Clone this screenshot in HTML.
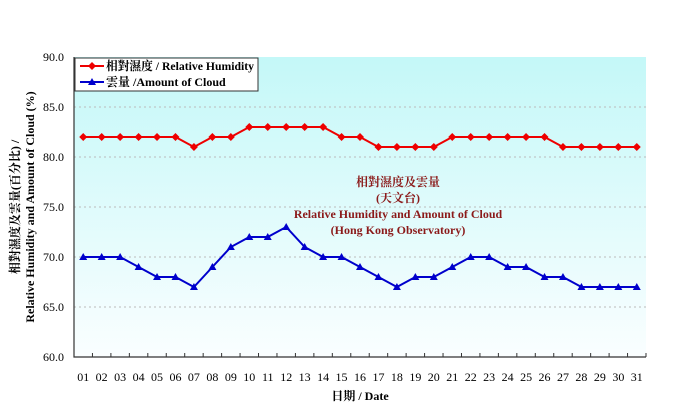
<!DOCTYPE html>
<html><head><meta charset="utf-8"><style>body{margin:0;background:#fff}svg{display:block}</style></head><body>
<svg width="684" height="420" xmlns="http://www.w3.org/2000/svg" font-family="Liberation Serif, 'Noto Serif CJK SC', serif">
<defs><linearGradient id="g" x1="0" y1="0" x2="0" y2="1"><stop offset="0" stop-color="#c4f8f8"/><stop offset="1" stop-color="#fafeff"/></linearGradient></defs>
<rect x="74" y="57" width="572" height="300" fill="url(#g)"/>
<g stroke="#bbb" stroke-dasharray="2,3" stroke-width="1">
<line x1="74" x2="646" y1="107" y2="107"/><line x1="74" x2="646" y1="157" y2="157"/><line x1="74" x2="646" y1="207" y2="207"/><line x1="74" x2="646" y1="257" y2="257"/><line x1="74" x2="646" y1="307" y2="307"/></g>
<path d="M74,57V357H646" fill="none" stroke="#333" stroke-width="1.2"/>
<g font-size="12" text-anchor="end" fill="#000"><text x="64" y="61">90.0</text><text x="64" y="111">85.0</text><text x="64" y="161">80.0</text><text x="64" y="211">75.0</text><text x="64" y="261">70.0</text><text x="64" y="311">65.0</text><text x="64" y="361">60.0</text></g>
<g font-size="12" font-weight="bold" fill="#8b1a1a" text-anchor="middle">
<text x="398" y="186">相對濕度及雲量</text><text x="398" y="202">(天文台)</text><text x="398" y="218">Relative Humidity and Amount of Cloud</text><text x="398" y="234">(Hong Kong Observatory)</text></g>
<text x="360" y="400" font-size="12" font-weight="bold" text-anchor="middle">日期 / Date</text>
<text transform="translate(19,207) rotate(-90)" font-size="12" font-weight="bold" text-anchor="middle">相對濕度及雲量(百分比) /</text>
<text transform="translate(34,207) rotate(-90)" font-size="12" font-weight="bold" text-anchor="middle">Relative Humidity and Amount of Cloud (%)</text>
<rect x="75" y="58" width="183" height="33" fill="#fff" stroke="#333"/>
<line x1="80" x2="104" y1="66" y2="66" stroke="#e00" stroke-width="2"/><path d="M92,62l4,4-4,4-4-4z" fill="#e00"/>
<line x1="80" x2="104" y1="82" y2="82" stroke="#00c" stroke-width="2"/><path d="M92,78l4,7h-8z" fill="#00c"/>
<text x="106" y="70" font-size="12" font-weight="bold" textLength="148" lengthAdjust="spacingAndGlyphs">相對濕度 / Relative Humidity</text>
<text x="106" y="86" font-size="12" font-weight="bold">雲量 /Amount of Cloud</text>
<g id="d"></g>
</svg>
<script>
var H=[82,82,82,82,82,82,81,82,82,83,83,83,83,83,82,82,81,81,81,81,82,82,82,82,82,82,81,81,81,81,81];
var C=[70,70,70,69,68,68,67,69,71,72,72,73,71,70,70,69,68,67,68,68,69,70,70,69,69,68,68,67,67,67,67];
var s=572/31,o='';
function X(i){return 74+s*(i+0.5)}function Y(v){return 357-(v-60)*10}
for(var i=0;i<31;i++){o+='<line x1="'+(74+s*(i+1))+'" x2="'+(74+s*(i+1))+'" y1="357" y2="353" stroke="#333"/>';
o+='<text x="'+X(i)+'" y="381" font-size="12" text-anchor="middle">'+(i<9?'0':'')+(i+1)+'</text>';}
var p1=H.map(function(v,i){return X(i)+','+Y(v)}).join(' '),p2=C.map(function(v,i){return X(i)+','+Y(v)}).join(' ');
o+='<polyline points="'+p1+'" fill="none" stroke="#e00" stroke-width="2"/><polyline points="'+p2+'" fill="none" stroke="#00c" stroke-width="2"/>';
for(i=0;i<31;i++){var x=X(i),y=Y(H[i]);o+='<path d="M'+x+','+(y-4)+'l4,4-4,4-4-4z" fill="#e00"/>';y=Y(C[i]);o+='<path d="M'+x+','+(y-4)+'l4,7h-8z" fill="#00c"/>';}
document.getElementById('d').innerHTML=o;
</script>
</body></html>
